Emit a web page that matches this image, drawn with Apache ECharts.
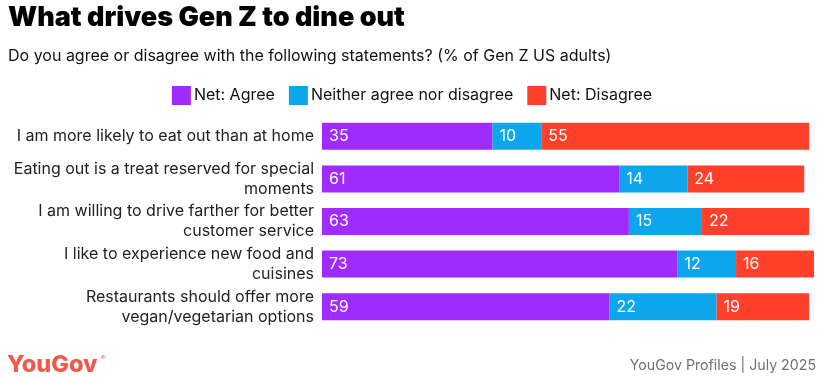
<!DOCTYPE html>
<html><head><meta charset="utf-8">
<script src="https://cdn.jsdelivr.net/npm/echarts@6/dist/echarts.min.js"></script>
<style>html,body{margin:0;padding:0;background:#fff}#c{width:824px;height:382px}</style>
</head><body><div id="c"></div>
<script>
const categories = [
  "I am more likely to eat out than at home",
  "Eating out is a treat reserved for special\nmoments",
  "I am willing to drive farther for better\ncustomer service",
  "I like to experience new food and\ncuisines",
  "Restaurants should offer more\nvegan/vegetarian options"
];
const seriesNames = ["Net: Agree", "Neither agree nor disagree", "Net: Disagree"];
const agree = [35, 61, 63, 73, 59];
const neither = [10, 14, 15, 12, 22];
const disagree = [55, 24, 22, 16, 19];
const colors = ["#a02bff", "#0ba6ec", "#ff412c"];

const chart = echarts.init(document.getElementById('c'));
const font = "Inter, 'Noto Sans', sans-serif";
const mk = (name, data, color) => ({
  name, type: 'bar', stack: 'total', data, barWidth: 27,
  itemStyle: {color},
  label: {show: true, position: 'insideLeft', distance: 7, color: '#fff', fontSize: 16, fontFamily: font},
  emphasis: {disabled: true}
});
chart.setOption({
  animation: false,
  textStyle: {fontFamily: font},
  title: [{
    text: 'What drives Gen Z to dine out', left: 8, top: 4, padding: 0,
    textStyle: {fontSize: 27, fontWeight: 900, color: '#000', fontFamily: font}
  }, {
    text: 'Do you agree or disagree with the following statements? (% of Gen Z US adults)', left: 8, top: 48, padding: 0,
    textStyle: {fontSize: 16, fontWeight: 'normal', color: '#111', fontFamily: font}
  }],
  legend: {
    top: 81, left: 'center', itemWidth: 19, itemHeight: 19, itemGap: 14, icon: 'rect',
    textStyle: {fontSize: 16, color: '#111', fontFamily: font, padding: [0, 0, 0, -2]},
    data: seriesNames
  },
  grid: {left: 322, right: 10, top: 115, bottom: 54, containLabel: false},
  xAxis: {type: 'value', min: 0, max: 101, show: false},
  yAxis: {
    type: 'category', data: categories, inverse: true,
    axisLine: {show: false}, axisTick: {show: false},
    axisLabel: {fontSize: 16, color: '#222', lineHeight: 20, margin: 8, align: 'right', fontFamily: font}
  },
  series: [mk(seriesNames[0], agree, colors[0]), mk(seriesNames[1], neither, colors[1]), mk(seriesNames[2], disagree, colors[2])],
  graphic: [{
    type: 'text', x: 7, y: 353,
    style: {text: 'YouGov', fontSize: 23.5, fontWeight: 800, fill: '#f05a4a', fontFamily: font}
  }, {
    type: 'text', x: 101, y: 355,
    style: {text: '®', fontSize: 6, fill: '#f05a4a', fontFamily: font}
  }, {
    type: 'text', right: 8, top: 359,
    style: {text: 'YouGov Profiles | July 2025', fontSize: 14.2, fill: '#707070', fontFamily: font}
  }]
});
</script></body></html>
